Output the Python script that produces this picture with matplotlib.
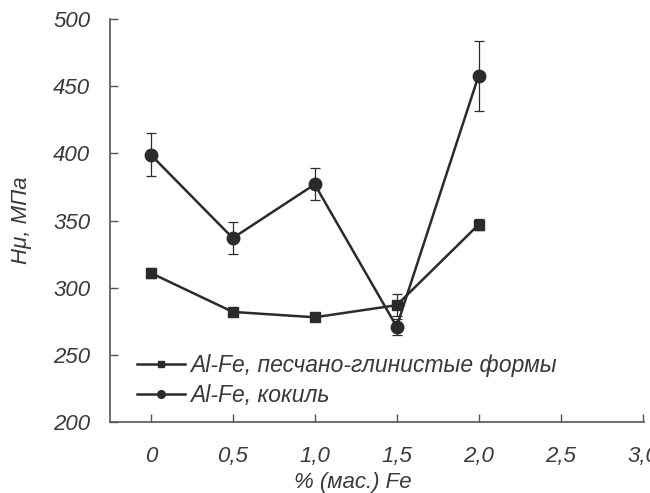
import matplotlib
matplotlib.use('Agg')
import matplotlib.pyplot as plt
from matplotlib.lines import Line2D

fe = [0, 0.5, 1.0, 1.5, 2.0]

# песчано-глинистые формы (squares)
sand = [311, 282, 278, 287, 347]
sand_err = [4, 3, 3, 8, 4]

# кокиль (circles)
chill = [399, 337, 377, 271, 458]
chill_err = [16, 12, 12, 6, 26]

labels = ['Al-Fe, песчано-глинистые формы', 'Al-Fe, кокиль']
xticks = [0, 0.5, 1.0, 1.5, 2.0, 2.5, 3.0]
xticklabels = ['0', '0,5', '1,0', '1,5', '2,0', '2,5', '3,0']
yticks = [200, 250, 300, 350, 400, 450, 500]

plt.rcParams['font.family'] = ['Liberation Sans', 'DejaVu Sans']
plt.rcParams['font.style'] = 'italic'

fig = plt.figure(figsize=(6.5, 4.93), dpi=100)
ax = fig.add_axes([0.169, 0.144, 0.822, 0.817])

col = '#2b2b2b'
txt = '#3a3a3a'
ax.errorbar(fe, sand, yerr=sand_err, color=col, marker='s', markersize=7.5,
            lw=1.8, elinewidth=0.9, capsize=3.5, capthick=0.9)
ax.errorbar(fe, chill, yerr=chill_err, color=col, marker='o', markersize=9,
            lw=1.8, elinewidth=0.9, capsize=3.5, capthick=0.9)

ax.set_xlim(-0.25, 3.01)
ax.set_ylim(200, 500)
ax.set_xticks(xticks)
ax.set_xticklabels(xticklabels)
ax.set_yticks(yticks)
ax.spines['top'].set_visible(False)
ax.spines['right'].set_visible(False)
for s in ('left', 'bottom'):
    ax.spines[s].set_color('#555555')
    ax.spines[s].set_linewidth(1.2)
ax.tick_params(direction='in', length=6, width=1, color='#555555',
               labelsize=16, labelcolor=txt)
ax.tick_params(axis='x', pad=17)
ax.tick_params(axis='y', pad=14)
for lab in ax.get_xticklabels() + ax.get_yticklabels():
    lab.set_fontstyle('italic')

ax.set_ylabel('Hμ, МПа', fontsize=16, color=txt, style='italic')
ax.yaxis.set_label_coords(-0.146, 0.5)
ax.set_xlabel('% (мас.) Fe', fontsize=16, color=txt, style='italic')
ax.xaxis.set_label_coords(0.455, -0.125)

handles = [Line2D([], [], color=col, lw=1.8, marker='s', markersize=5),
           Line2D([], [], color=col, lw=1.8, marker='o', markersize=5.5)]
leg = ax.legend(handles, labels, loc='lower left', bbox_to_anchor=(0.02, -0.002),
                frameon=False, fontsize=16.5, handlelength=2.1, handletextpad=0.25,
                labelspacing=0.3, borderpad=0.2)
for t in leg.get_texts():
    t.set_color(txt)
    t.set_fontstyle('italic')

fig.savefig('out.png', dpi=100, facecolor='white')
